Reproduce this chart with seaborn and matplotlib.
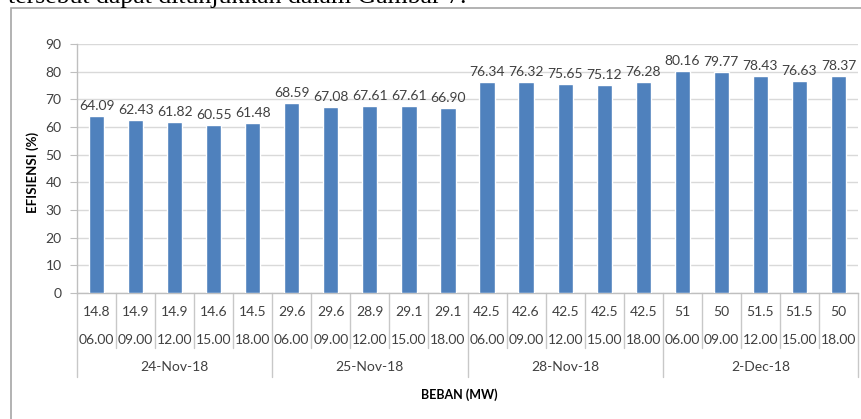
"""
plot.py - efisiensi vs beban (bar chart with multi-level category axis)
"""
import numpy as np
import pandas as pd
import matplotlib
matplotlib.use("Agg")
import matplotlib.pyplot as plt
import matplotlib.transforms as mtransforms
from matplotlib.patches import Rectangle
import seaborn as sns

# Data
dates = ["24-Nov-18", "25-Nov-18", "28-Nov-18", "2-Dec-18"]
times = ["06.00", "09.00", "12.00", "15.00", "18.00"]
beban = ["14.8", "14.9", "14.9", "14.6", "14.5",
         "29.6", "29.6", "28.9", "29.1", "29.1",
         "42.5", "42.6", "42.5", "42.5", "42.5",
         "51", "50", "51.5", "51.5", "50"]
efisiensi = [64.09, 62.43, 61.82, 60.55, 61.48,
             68.59, 67.08, 67.61, 67.61, 66.90,
             76.34, 76.32, 75.65, 75.12, 76.28,
             80.16, 79.77, 78.43, 76.63, 78.37]

df = pd.DataFrame({
    "Tanggal": np.repeat(dates, len(times)),
    "Jam": times * len(dates),
    "Beban": beban,
    "Efisiensi": efisiensi,
})
df["Kategori"] = df["Tanggal"] + " " + df["Jam"]

sns.set_style("white")
plt.rcParams["font.family"] = ["Lato", "DejaVu Sans"]

W, H = 861, 419
fig = plt.figure(figsize=(W / 100, H / 100), dpi=100)
ax = fig.add_axes([77 / W, 1 - 293 / H, (858 - 77) / W, (293 - 44) / H])

sns.barplot(data=df, x="Kategori", y="Efisiensi", order=list(df["Kategori"]),
            color="#4F81BD", saturation=1, width=0.39, ax=ax, zorder=3)

# label nilai di atas batang
for i, v in enumerate(df["Efisiensi"]):
    ax.annotate(f"{v:.2f}", (i, v), xytext=(0, 3), textcoords="offset points",
                ha="center", va="bottom", fontsize=10, color="#404040")

ax.set_ylim(0, 90)
ax.set_yticks(range(0, 91, 10))
ax.set_xlim(-0.5, len(df) - 0.5)
ax.set_xticks([])
ax.set_xlabel("")
ax.set_ylabel("")
ax.yaxis.grid(True, color="#d9d9d9", lw=1, zorder=0)
ax.tick_params(axis="y", which="both", left=True, length=5, color="#bfbfbf",
               labelsize=10, labelcolor="#404040", pad=6)
for side in ["top", "right"]:
    ax.spines[side].set_visible(False)
for side in ["left", "bottom"]:
    ax.spines[side].set_color("#bfbfbf")
    ax.spines[side].set_linewidth(1)

# tabel kategori di bawah sumbu
trans = mtransforms.blended_transform_factory(ax.transData, ax.transAxes)
line_kw = dict(color="#c8c8c8", lw=1, transform=trans, clip_on=False)
n = len(df)
for i in range(n + 1):
    x = i - 0.5
    bottom = -0.337 if i % len(times) == 0 else -0.221
    ax.plot([x, x], [0, bottom], **line_kw)
for i in range(n):
    ax.text(i, -0.076, df["Beban"][i], transform=trans, ha="center", va="center",
            fontsize=10, color="#404040")
    ax.text(i, -0.189, df["Jam"][i], transform=trans, ha="center", va="center",
            fontsize=10, color="#404040")
for k, d in enumerate(dates):
    ax.text(k * len(times) + (len(times) - 1) / 2, -0.297, d, transform=trans,
            ha="center", va="center", fontsize=10, color="#404040")

fig.text(459 / W, 1 - 395 / H, "BEBAN (MW)", ha="center", va="center",
         fontsize=9, fontweight="bold", color="black")
fig.text(33 / W, 1 - 172 / H, "EFISIENSI (%)", ha="center", va="center",
         rotation=90, fontsize=9.5, fontweight="bold", color="black")

# bingkai grafik
fig.patches.append(Rectangle((11 / W, -0.2), 2.0, 1.2 - 8 / H, transform=fig.transFigure,
                             fill=False, edgecolor="#a6a6a6", lw=1.2))

# potongan teks dokumen di atas (terpotong di tepi atas, seperti aslinya)
fig.text(8 / W, 1 - 3 / H, "tersebut dapat ditunjukkan dalam Gambar 7.",
         ha="left", va="baseline", fontsize=18.5, family="Liberation Serif", color="black")

fig.savefig("out.png", dpi=100)
plt.close(fig)
